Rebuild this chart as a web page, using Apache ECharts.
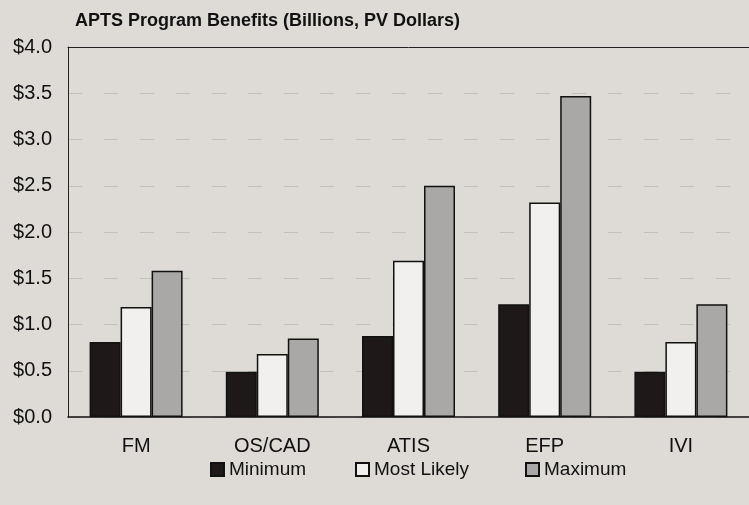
<!DOCTYPE html>
<html>
<head>
<meta charset="utf-8">
<script src="https://cdn.jsdelivr.net/npm/echarts@6/dist/echarts.min.js"></script>
<style>
  html, body { margin: 0; padding: 0; background: #dedbd7; }
  #chart { width: 749px; height: 505px; }
</style>
</head>
<body>
<div id="chart"></div>
<script>
// APTS program benefits by area, in billions of present-value dollars
const categories = ['FM', 'OS/CAD', 'ATIS', 'EFP', 'IVI'];
const minimum    = [0.81, 0.49, 0.875, 1.22, 0.49];
const mostLikely = [1.19, 0.68, 1.69, 2.32, 0.81];
const maximum    = [1.58, 0.85, 2.50, 3.47, 1.22];

const FONT = '"Liberation Sans", Arial, sans-serif';

const chart = echarts.init(document.getElementById('chart'), null, { renderer: 'canvas' });

function legendItem(name, left) {
  return {
    data: [name],
    left: left,
    top: 455,
    itemWidth: 13,
    itemHeight: 13,
    itemGap: 0,
    icon: 'rect',
    textStyle: { fontFamily: FONT, fontSize: 19, color: '#111' }
  };
}

function barSeries(name, data, color) {
  return {
    name: name,
    type: 'bar',
    data: data,
    barWidth: 31,
    barGap: '0%',
    itemStyle: { color: color, borderColor: '#111', borderWidth: 1.5 }
  };
}

chart.setOption({
  backgroundColor: '#dedbd7',
  animation: false,
  title: {
    text: 'APTS Program Benefits (Billions, PV Dollars)',
    left: 70,
    top: 7,
    textStyle: { fontFamily: FONT, fontSize: 18, fontWeight: 'bold', color: '#111' }
  },
  legend: [
    legendItem('Minimum', 205),
    legendItem('Most Likely', 350),
    legendItem('Maximum', 520)
  ],
  grid: {
    left: 68,
    top: 47,
    width: 688,
    height: 370
  },
  xAxis: [
    {
      type: 'category',
      data: categories,
      axisLine: { lineStyle: { color: '#111', width: 1.5 } },
      axisTick: { show: false },
      axisLabel: { fontFamily: FONT, fontSize: 20, color: '#111', margin: 19 }
    },
    {
      // frame line along the top of the plot
      type: 'category',
      position: 'top',
      data: categories,
      axisLine: { show: true, lineStyle: { color: '#222', width: 1 } },
      axisTick: { show: false },
      axisLabel: { show: false }
    }
  ],
  yAxis: {
    type: 'value',
    min: 0,
    max: 4,
    interval: 0.5,
    axisLine: { show: true, lineStyle: { color: '#222', width: 1 } },
    axisTick: { show: false },
    axisLabel: {
      fontFamily: FONT,
      fontSize: 20,
      color: '#111',
      margin: 16,
      formatter: v => '$' + v.toFixed(1)
    },
    splitLine: {
      show: true,
      showMaxLine: false,
      lineStyle: { color: '#c4c1bd', width: 1, type: [14, 22] }
    }
  },
  series: [
    barSeries('Minimum', minimum, '#1e1818'),
    barSeries('Most Likely', mostLikely, '#f1f0ee'),
    barSeries('Maximum', maximum, '#a9a8a6')
  ]
});
</script>
</body>
</html>
